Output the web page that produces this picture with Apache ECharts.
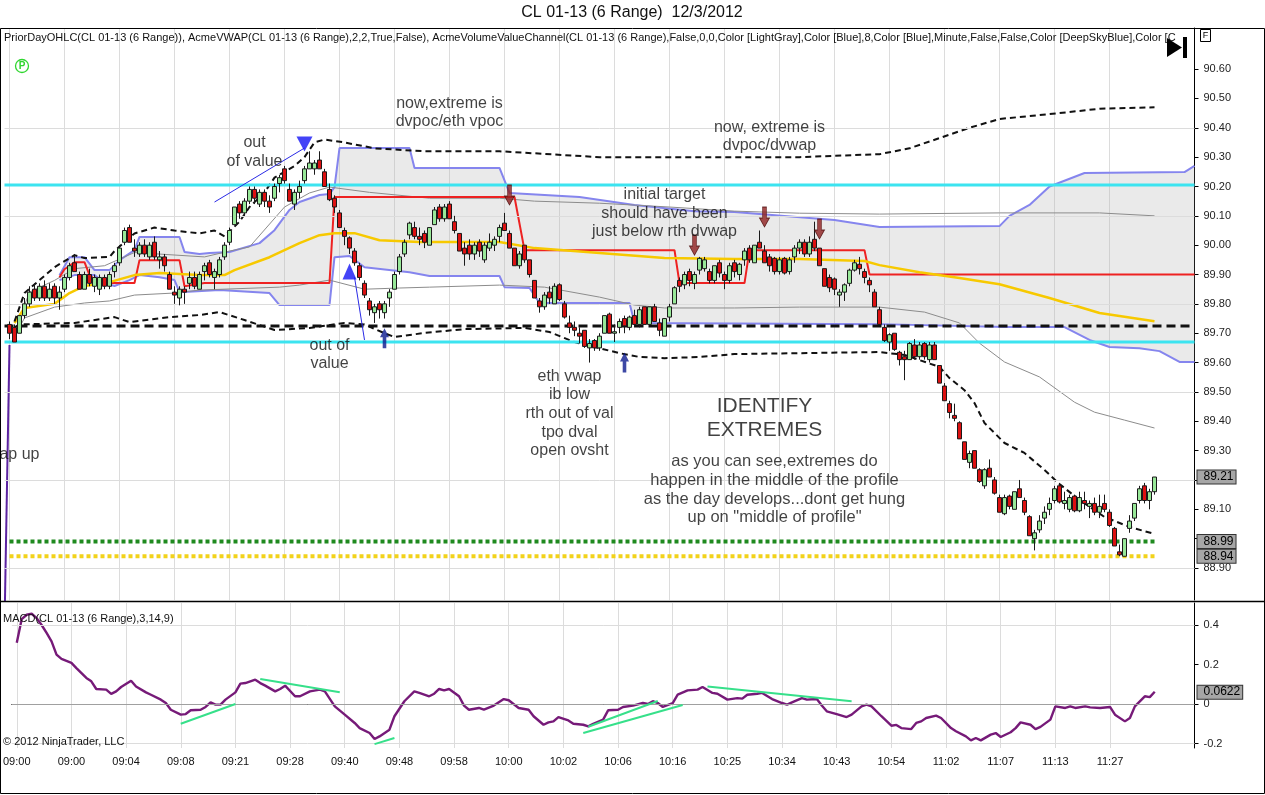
<!DOCTYPE html>
<html>
<head>
<meta charset="utf-8">
<script src="https://cdn.jsdelivr.net/npm/echarts@6/dist/echarts.min.js"></script>
<style>
  html, body { margin: 0; padding: 0; background: #fff; }
  #chart { width: 1265px; height: 795px; }
</style>
</head>
<body>
<div id="chart"></div>
<script>
// ---- Data ----
const tickLabels = ['09:00','09:00','09:04','09:08','09:21','09:28','09:40','09:48','09:58','10:00','10:02',
  '10:06','10:16','10:25','10:34','10:43','10:54','11:02','11:07','11:13','11:27'];

// range bars 1..230 : [open, close, low, high]
const candles = [
  [89.73,89.70,89.68,89.74],[89.72,89.67,89.67,89.73],[89.70,89.76,89.70,89.76],[89.76,89.80,89.75,89.82],
  [89.80,89.84,89.79,89.86],[89.85,89.82,89.81,89.87],[89.82,89.86,89.81,89.87],[89.86,89.82,89.81,89.88],
  [89.82,89.85,89.81,89.87],[89.86,89.82,89.80,89.87],[89.82,89.84,89.78,89.86],[89.85,89.89,89.84,89.90],
  [89.89,89.93,89.88,89.94],[89.94,89.91,89.91,89.97],[89.90,89.85,89.85,89.91],[89.85,89.90,89.85,89.91],
  [89.90,89.87,89.86,89.92],[89.86,89.89,89.84,89.90],[89.85,89.89,89.83,89.90],[89.89,89.86,89.85,89.90],
  [89.86,89.90,89.85,89.91],[89.91,89.93,89.89,89.94],[89.94,89.99,89.93,90.00],[90.01,90.05,90.00,90.06],
  [90.06,90.01,90.01,90.07],[89.99,89.98,89.96,90.02],[89.97,90.00,89.96,90.01],[90.00,89.97,89.96,90.02],
  [89.96,90.00,89.95,90.01],[90.01,89.96,89.95,90.03],[89.95,89.96,89.92,89.98],[89.96,89.93,89.91,89.97],
  [89.90,89.85,89.85,89.91],[89.84,89.83,89.80,89.86],[89.82,89.85,89.795,89.86],[89.85,89.84,89.80,89.86],
  [89.87,89.89,89.85,89.91],[89.89,89.86,89.85,89.91],[89.85,89.90,89.85,89.91],[89.91,89.93,89.88,89.94],
  [89.94,89.90,89.89,89.95],[89.89,89.91,89.85,89.92],[89.90,89.95,89.89,89.96],[89.96,90.00,89.95,90.01],
  [90.01,90.05,90.00,90.06],[90.07,90.13,90.07,90.13],[90.14,90.11,90.09,90.15],[90.11,90.15,90.10,90.16],
  [90.15,90.19,90.14,90.20],[90.19,90.16,90.14,90.20],[90.14,90.18,90.13,90.19],[90.18,90.15,90.13,90.19],
  [90.15,90.13,90.11,90.17],[90.16,90.20,90.15,90.21],[90.21,90.23,90.18,90.24],[90.26,90.22,90.21,90.27],
  [90.19,90.15,90.15,90.21],[90.14,90.18,90.12,90.19],[90.18,90.20,90.16,90.22],[90.22,90.26,90.21,90.27],
  [90.26,90.28,90.26,90.32],[90.26,90.28,90.24,90.29],[90.29,90.26,90.26,90.32],[90.25,90.20,90.20,90.26],
  [90.19,90.155,90.15,90.21],[90.16,90.13,90.11,90.17],[90.11,90.06,90.06,90.12],[90.05,90.03,90.00,90.06],
  [90.025,89.99,89.97,90.03],[89.98,89.94,89.93,89.99],[89.93,89.89,89.88,89.94],[89.87,89.83,89.82,89.88],
  [89.81,89.78,89.76,89.82],[89.77,89.79,89.735,89.80],[89.80,89.78,89.75,89.81],[89.77,89.80,89.75,89.81],
  [89.82,89.84,89.79,89.85],[89.85,89.90,89.85,89.91],[89.91,89.96,89.90,89.97],[89.97,90.01,89.96,90.02],
  [90.035,90.075,90.02,90.08],[90.06,90.03,90.02,90.08],[90.03,90.02,90.00,90.06],[90.04,90.01,89.99,90.05],
  [90.00,90.06,90.00,90.06],[90.07,90.12,90.07,90.13],[90.13,90.09,90.08,90.14],[90.09,90.13,90.08,90.14],
  [90.14,90.09,90.09,90.15],[90.08,90.05,90.04,90.10],[90.04,89.98,89.98,90.04],[89.99,89.97,89.93,90.01],
  [90.00,89.97,89.95,90.02],[89.97,90.00,89.95,90.01],[90.01,89.98,89.96,90.02],[89.95,90.00,89.94,90.01],
  [89.99,90.01,89.98,90.04],[90.00,90.02,89.98,90.03],[90.03,90.06,90.01,90.07],[90.075,90.05,90.05,90.11],
  [90.04,89.99,89.99,90.05],[89.99,89.93,89.93,89.99],[89.93,89.97,89.92,89.98],[90.00,89.95,89.94,90.00],
  [89.95,89.90,89.89,89.95],[89.88,89.82,89.82,89.88],[89.81,89.79,89.77,89.82],[89.79,89.83,89.78,89.84],
  [89.84,89.82,89.80,89.86],[89.80,89.86,89.80,89.87],[89.865,89.815,89.81,89.87],[89.80,89.755,89.75,89.81],
  [89.735,89.72,89.70,89.76],[89.72,89.71,89.69,89.74],[89.70,89.69,89.665,89.72],[89.71,89.655,89.65,89.71],
  [89.65,89.665,89.60,89.68],[89.675,89.65,89.64,89.68],[89.65,89.69,89.64,89.70],[89.70,89.76,89.70,89.76],
  [89.765,89.70,89.70,89.77],[89.70,89.705,89.67,89.73],[89.72,89.74,89.70,89.75],[89.75,89.725,89.70,89.76],
  [89.72,89.755,89.71,89.76],[89.76,89.73,89.72,89.78],[89.73,89.78,89.72,89.79],[89.79,89.73,89.73,89.79],
  [89.73,89.79,89.73,89.79],[89.79,89.74,89.74,89.80],[89.735,89.71,89.69,89.75],[89.69,89.75,89.69,89.75],
  [89.755,89.79,89.74,89.80],[89.80,89.855,89.80,89.86],[89.88,89.86,89.84,89.89],[89.865,89.90,89.85,89.91],
  [89.91,89.88,89.86,89.92],[89.87,89.90,89.85,89.91],[89.915,89.955,89.90,89.96],[89.92,89.95,89.91,89.96],
  [89.91,89.88,89.87,89.92],[89.88,89.93,89.87,89.93],[89.94,89.905,89.89,89.95],[89.90,89.88,89.85,89.91],
  [89.88,89.93,89.87,89.94],[89.94,89.91,89.89,89.95],[89.90,89.935,89.88,89.94],[89.95,89.98,89.93,89.99],
  [89.99,89.95,89.94,90.00],[89.94,90.00,89.94,90.00],[90.01,89.99,89.99,90.05],[89.98,89.94,89.94,90.00],
  [89.96,89.93,89.91,89.97],[89.955,89.91,89.90,89.96],[89.91,89.95,89.90,89.96],[89.955,89.905,89.90,89.96],
  [89.91,89.95,89.90,89.96],[89.96,89.99,89.94,90.00],[89.99,90.01,89.97,90.02],[90.01,89.97,89.96,90.02],
  [89.97,90.01,89.96,90.03],[90.02,89.99,89.98,90.08],[89.99,89.93,89.93,89.99],[89.92,89.86,89.86,89.92],
  [89.89,89.855,89.84,89.90],[89.885,89.85,89.83,89.89],[89.83,89.84,89.79,89.85],[89.84,89.865,89.81,89.87],
  [89.87,89.915,89.86,89.92],[89.915,89.94,89.91,89.95],[89.935,89.92,89.90,89.96],[89.91,89.89,89.87,89.92],
  [89.88,89.865,89.84,89.89],[89.84,89.79,89.79,89.85],[89.78,89.73,89.73,89.79],[89.72,89.675,89.67,89.73],
  [89.67,89.695,89.64,89.70],[89.70,89.645,89.64,89.70],[89.635,89.61,89.59,89.64],[89.62,89.61,89.54,89.64],
  [89.61,89.665,89.61,89.67],[89.66,89.62,89.61,89.68],[89.62,89.66,89.61,89.67],[89.665,89.62,89.61,89.67],
  [89.61,89.66,89.60,89.67],[89.66,89.61,89.61,89.67],[89.59,89.53,89.53,89.59],[89.52,89.47,89.47,89.53],
  [89.46,89.43,89.41,89.47],[89.42,89.41,89.40,89.46],[89.395,89.34,89.34,89.40],[89.33,89.27,89.27,89.33],
  [89.26,89.29,89.24,89.30],[89.30,89.24,89.24,89.30],[89.235,89.195,89.19,89.24],[89.18,89.235,89.17,89.24],
  [89.24,89.21,89.21,89.27],[89.20,89.155,89.15,89.21],[89.14,89.09,89.09,89.15],[89.085,89.14,89.08,89.15],
  [89.145,89.11,89.10,89.15],[89.10,89.16,89.10,89.16],[89.17,89.14,89.14,89.20],[89.13,89.09,89.08,89.14],
  [89.075,89.01,89.01,89.08],[89.00,89.02,88.96,89.03],[89.03,89.06,89.02,89.08],[89.07,89.09,89.05,89.11],
  [89.10,89.12,89.08,89.14],[89.13,89.17,89.12,89.18],[89.18,89.125,89.12,89.19],[89.12,89.13,89.10,89.16],
  [89.10,89.14,89.09,89.15],[89.145,89.095,89.09,89.15],[89.095,89.14,89.09,89.16],[89.13,89.12,89.10,89.16],
  [89.11,89.12,89.07,89.13],[89.12,89.09,89.08,89.14],[89.09,89.11,89.07,89.15],[89.12,89.10,89.09,89.15],
  [89.09,89.045,89.04,89.10],[89.035,88.975,88.975,89.04],[88.955,88.945,88.94,88.98],[88.94,89.00,88.94,89.00],
  [89.035,89.06,89.02,89.08],[89.07,89.12,89.06,89.12],[89.13,89.17,89.12,89.18],[89.18,89.13,89.12,89.19],
  [89.13,89.16,89.10,89.17],[89.16,89.21,89.15,89.21]
];

// indicator vertices [bar, value]
const upperBand2 = [[2,89.74],[4,89.837],[10,89.925],[14,89.966],[16,89.956],[21,89.96],[22,89.98],[26,90.04],
  [30,90.06],[34,90.05],[39,90.04],[42,90.05],[44,90.03],[47,90.08],[49,90.13],[52,90.18],[54,90.23],[58,90.27],
  [60,90.30],[62,90.35],[64,90.36],[68,90.35],[74,90.33],[84,90.32],[99,90.32],[119,90.30],[139,90.30],
  [159,90.30],[175,90.31],[181,90.33],[187,90.365],[193,90.40],[199,90.43],[205,90.44],[211,90.45],[219,90.465],[230,90.47]];
const lowerBand2 = [[2,89.72],[3,89.73],[14,89.735],[22,89.755],[25,89.738],[33,89.755],[39,89.762],[43,89.772],
  [48,89.745],[54,89.711],[61,89.718],[68,89.735],[72,89.73],[76,89.70],[78,89.687],[84,89.701],[92,89.714],
  [104,89.718],[109,89.704],[114,89.670],[119,89.649],[123,89.632],[127,89.619],[132,89.615],[139,89.619],
  [146,89.629],[159,89.632],[175,89.636],[180,89.626],[187,89.585],[189,89.547],[192,89.506],[194,89.462],
  [196,89.394],[200,89.326],[204,89.292],[208,89.234],[211,89.186],[215,89.132],[220,89.074],[225,89.04],[230,89.016]];
const upperBand1 = [[3,89.75],[5,89.84],[10,89.88],[14,89.92],[20,89.93],[26,89.975],[40,89.96],[45,89.98],
  [49,89.994],[56,90.13],[61,90.178],[65,90.198],[73,90.18],[85,90.16],[99,90.16],[106,90.15],[119,90.143],
  [133,90.13],[146,90.116],[159,90.109],[175,90.106],[199,90.11],[219,90.11],[230,90.10]];
const lowerBand1 = [[3,89.72],[4,89.752],[10,89.789],[16,89.803],[21,89.81],[26,89.83],[34,89.837],[39,89.847],
  [55,89.857],[59,89.864],[65,89.881],[72,89.85],[79,89.854],[85,89.857],[99,89.864],[108,89.857],[119,89.823],
  [126,89.796],[132,89.786],[146,89.786],[159,89.789],[175,89.789],[184,89.772],[191,89.735],[195,89.666],
  [200,89.602],[207,89.551],[214,89.465],[218,89.431],[224,89.404],[230,89.377]];
const vwap = [[2,89.735],[4,89.786],[10,89.80],[13,89.837],[16,89.861],[21,89.874],[26,89.898],[31,89.905],
  [39,89.898],[44,89.898],[46,89.915],[53,89.959],[59,90.007],[63,90.034],[66,90.041],[70,90.041],[75,90.017],
  [83,90.011],[99,90.011],[106,89.99],[119,89.973],[132,89.956],[146,89.953],[159,89.953],[172,89.946],
  [175,89.932],[183,89.908],[191,89.888],[199,89.867],[209,89.82],[219,89.769],[230,89.741]];
const valueHigh = [[11,89.898],[13,89.959],[16,89.959],[18,89.915],[21,89.915],[23,89.949],[26,89.983],[27,90.028],
  [35,90.028],[36,89.977],[39,89.97],[41,89.973],[45,89.977],[51,90.007],[54,90.051],[57,90.12],[59,90.147],
  [63,90.171],[65,90.174],[66,90.198],[67,90.331],[81,90.331],[82,90.263],[99,90.263],[101,90.178],[115,90.164],
  [126,90.137],[138,90.116],[146,90.113],[166,90.086],[175,90.062],[199,90.065],[201,90.10],[205,90.137],
  [209,90.20],[216,90.246],[236,90.249],[238,90.27]];
const valueLow = [[11,89.881],[14,89.898],[18,89.898],[20,89.871],[22,89.861],[25,89.881],[27,89.898],[31,89.891],
  [34,89.881],[35,89.84],[43,89.847],[53,89.837],[55,89.796],[65,89.796],[66,89.959],[69,89.963],[72,89.925],
  [81,89.908],[85,89.895],[99,89.895],[100,89.857],[105,89.854],[107,89.803],[125,89.803],[126,89.735],
  [175,89.731],[200,89.721],[212,89.721],[217,89.677],[221,89.653],[227,89.649],[231,89.639],[235,89.602],[238,89.602]];
const poc = [[11,89.891],[12,89.918],[14,89.942],[16,89.942],[17,89.898],[19,89.871],[26,89.871],[27,89.949],
  [35,89.949],[36,89.86],[40,89.871],[65,89.871],[66,90.164],[102,90.164],[104,89.983],[134,89.983],[135,89.871],
  [148,89.871],[149,89.983],[172,89.983],[173,89.90],[238,89.90]];
const gapLine = [[0,88.70],[1,89.66]];

const cyanLevels = [90.205, 89.67];
const openLevel = 89.725;
const priorClose = 88.99;
const priorLow = 88.94;
const priceTags = [89.21, 88.99, 88.94];

const macd = [[1,0.31],[2,0.43],[3,0.452],[4,0.457],[5,0.435],[6,0.40],[7,0.36],[8,0.317],[9,0.25],[10,0.228],
  [12,0.208],[13,0.182],[15,0.132],[16,0.115],[17,0.076],[19,0.073],[20,0.051],[21,0.064],[22,0.086],[24,0.118],
  [25,0.089],[27,0.059],[28,0.047],[30,0.022],[31,0.005],[32,-0.029],[34,-0.054],[35,-0.051],[36,-0.032],
  [38,-0.029],[39,-0.015],[40,0.008],[41,-0.003],[42,-0.003],[43,0.022],[45,0.059],[46,0.103],[47,0.106],
  [49,0.123],[50,0.106],[51,0.093],[53,0.064],[54,0.076],[55,0.093],[57,0.039],[58,0.039],[60,0.064],[62,0.073],
  [63,0.064],[65,-0.012],[67,-0.054],[69,-0.096],[70,-0.122],[72,-0.147],[73,-0.177],[74,-0.164],[76,-0.13],
  [77,-0.062],[79,0.014],[81,0.064],[82,0.056],[84,0.039],[85,0.052],[86,0.076],[87,0.069],[88,0.076],[90,0.039],
  [91,-0.008],[92,-0.029],[94,-0.02],[95,-0.029],[97,-0.008],[99,0.025],[100,0.019],[102,-0.02],[104,-0.029],
  [105,-0.062],[107,-0.105],[108,-0.093],[109,-0.088],[110,-0.066],[112,-0.083],[113,-0.10],[115,-0.105],
  [116,-0.113],[117,-0.10],[119,-0.079],[120,-0.032],[122,-0.029],[123,-0.015],[125,-0.008],[127,0.005],[128,0],
  [129,0.014],[130,0.005],[131,-0.015],[133,0.005],[134,0.047],[136,0.069],[138,0.073],[139,0.086],[141,0.056],
  [142,0.052],[144,0.022],[146,0.03],[147,0.027],[148,0.047],[150,0.052],[151,0.056],[153,0.025],[155,0.005],
  [156,-0.003],[157,0.008],[159,0.03],[160,0.022],[162,0.025],[163,-0.008],[164,-0.037],[166,-0.051],[168,-0.066],
  [169,-0.054],[171,-0.012],[172,-0.003],[173,-0.012],[175,-0.062],[177,-0.11],[178,-0.106],[179,-0.122],
  [181,-0.127],[182,-0.096],[183,-0.088],[184,-0.071],[186,-0.059],[187,-0.071],[189,-0.122],[190,-0.138],
  [192,-0.164],[193,-0.184],[194,-0.172],[195,-0.184],[197,-0.155],[198,-0.147],[199,-0.167],[201,-0.143],
  [202,-0.122],[203,-0.093],[205,-0.105],[206,-0.127],[207,-0.116],[209,-0.079],[210,-0.012],[212,-0.02],
  [213,-0.012],[214,-0.02],[216,-0.012],[217,-0.017],[219,-0.02],[221,-0.015],[222,-0.054],[224,-0.088],
  [225,-0.071],[226,-0.012],[228,0.039],[229,0.035],[230,0.0622]];
const macdLast = 0.0622;
const macdTrendLines = [
  [[34,-0.1],[45,0.0]], [[50,0.127],[66,0.059]], [[73,-0.203],[77,-0.172]],
  [[115,-0.147],[135,-0.005]], [[116,-0.115],[130,0.015]], [[140,0.089],[169,0.014]]
];

const priceTicks = [88.9,89.0,89.1,89.2,89.3,89.4,89.5,89.6,89.7,89.8,89.9,90.0,90.1,90.2,90.3,90.4,90.5,90.6];
const priceGridLevels = [88.9, 89.2, 89.5, 89.8, 90.1, 90.4];
const macdTicks = [-0.2, 0, 0.2, 0.4];
const macdGridLevels = [-0.2, 0.4];

// ---- Annotations (anchored in bar / price space) ----
const notes = [
  { text: 'out\nof value', at: [50, 90.316] },
  { text: 'now,extreme is\ndvpoc/eth vpoc', at: [89, 90.452] },
  { text: 'now, extreme is\ndvpoc/dvwap', at: [153, 90.370] },
  { text: 'initial target\nshould have been\njust below rth dvwap', at: [132, 90.109] },
  { text: 'out of\nvalue', at: [65, 89.627] },
  { text: 'eth vwap\nib low\nrth out of val\ntpo dval\nopen ovsht', at: [113, 89.426] }
];
const bigNote = { text: 'as you can see,extremes do\nhappen in the middle of the profile\nas the day develops...dont get hung\nup on "middle of profile"', at: [154, 89.167] };
const headline = { text: 'IDENTIFY\nEXTREMES', at: [152, 89.411] };
const gapNote = { text: 'gap up', at: [7, 89.285] };
const downArrows = [[101, 90.171], [138, 90.0], [152, 90.096], [163, 90.055]];
const upArrows = [[76, 89.683], [124, 89.60]];
const blueTriDown = [[60, 90.345]];
const blueTriUp = [[69, 89.91]];
const blueStrokes = [[[42, 90.147], [60, 90.331]], [[70, 89.891], [72, 89.677]]];

// ---- Chart ----
const FONT = 'Liberation Sans, Arial, sans-serif';
const bars = Array.from({ length: 239 }, (_, i) => String(i));
const isGridBar = i => i % 11 === 1 && i <= 221;
const HIDDEN = 'rgba(0,0,0,0)';
const tagLabel = {
  show: true, position: 'end', distance: 3,
  backgroundColor: '#a6a6a6', borderColor: '#333', borderWidth: 1, padding: [1, 2, 0, 6],
  color: '#000', fontSize: 12, fontFamily: FONT
};

function line(data, color, width, type, z, extra) {
  return Object.assign({
    type: 'line', xAxisIndex: 0, yAxisIndex: 0, data: data, symbol: 'none', silent: true,
    z: z, lineStyle: { color: color, width: width, type: type || 'solid' }
  }, extra || {});
}

const chart = echarts.init(document.getElementById('chart'));

const series = [
  // value area fill
  {
    type: 'custom', xAxisIndex: 0, yAxisIndex: 0, z: 1, silent: true, data: [[0, 89.8]],
    renderItem: function (params, api) {
      const pts = valueHigh.map(p => api.coord(p))
        .concat(valueLow.slice().reverse().map(p => api.coord(p)));
      return { type: 'polygon', shape: { points: pts }, style: { fill: 'rgba(185,185,185,0.3)' } };
    }
  },
  line(valueLow, '#8585ee', 2, 'solid', 2, {
    markLine: {
      silent: true, symbol: 'none', label: { show: false },
      lineStyle: { color: '#dcdcdc', width: 1, type: 'solid' },
      data: priceGridLevels.map(v => ({ yAxis: v }))
    }
  }),
  line(valueHigh, '#8585ee', 2, 'solid', 2),
  line(upperBand1, '#8c8c8c', 1, 'solid', 2),
  line(lowerBand1, '#8c8c8c', 1, 'solid', 2),
  line(poc, '#ee2222', 2, 'solid', 3),
  line(vwap, '#f7c900', 2.5, 'solid', 3),
  line(upperBand2, '#111', 2, [6, 4], 3),
  line(lowerBand2, '#111', 2, [6, 4], 3),
  line([[0, cyanLevels[0]], [238, cyanLevels[0]]], '#3ce4f0', 3, 'solid', 3),
  line([[0, cyanLevels[1]], [238, cyanLevels[1]]], '#3ce4f0', 3, 'solid', 3),
  line([[0, openLevel], [238, openLevel]], '#111', 3, [9, 5], 3),
  line([[1, priorClose], [230, priorClose]], '#1f8a1f', 4, [4, 3], 3),
  line([[1, priorLow], [230, priorLow]], '#f2d21a', 4, [4, 3], 3),
  line(gapLine, '#5b23a0', 2, 'solid', 3),
  {
    type: 'candlestick', xAxisIndex: 0, yAxisIndex: 0, z: 5, silent: true, barWidth: 4.2,
    data: candles.map((c, i) => [i + 1].concat(c)),
    encode: { x: 0, y: [1, 2, 3, 4] },
    itemStyle: { color: '#98e898', color0: '#dd1111', borderColor: '#1a1a1a', borderColor0: '#1a1a1a', borderWidth: 1 },
    markLine: {
      silent: true, symbol: 'none',
      lineStyle: { color: HIDDEN, width: 1 },
      label: Object.assign({ formatter: p => p.value.toFixed(2) }, tagLabel),
      data: priceTags.map(v => ({ yAxis: v }))
    }
  },
  ...blueStrokes.map(s => line(s, '#2a2ae6', 1, 'solid', 6)),
  {
    type: 'scatter', xAxisIndex: 0, yAxisIndex: 0, z: 6, silent: true, symbol: 'triangle',
    symbolSize: [16, 15], symbolRotate: 180, data: blueTriDown, itemStyle: { color: '#1414f5' }
  },
  {
    type: 'scatter', xAxisIndex: 0, yAxisIndex: 0, z: 6, silent: true, symbol: 'triangle',
    symbolSize: [14, 16], data: blueTriUp, itemStyle: { color: '#1414f5' }
  },
  {
    type: 'scatter', xAxisIndex: 0, yAxisIndex: 0, z: 6, silent: true,
    symbol: 'path://M3,0 L7,0 L7,11 L10,11 L5,20 L0,11 L3,11 Z', symbolSize: [10, 20],
    data: downArrows, itemStyle: { color: '#8e1f1f', borderColor: '#4a0a0a', borderWidth: 0.8 }
  },
  {
    type: 'scatter', xAxisIndex: 0, yAxisIndex: 0, z: 6, silent: true,
    symbol: 'path://M5,0 L10,9 L7,9 L7,20 L3,20 L3,9 L0,9 Z', symbolSize: [9, 20],
    data: upArrows, itemStyle: { color: '#0d1a8e' }
  },
  {
    type: 'scatter', xAxisIndex: 0, yAxisIndex: 0, z: 7, silent: true, symbolSize: 1,
    itemStyle: { color: HIDDEN },
    data: notes.map(n => ({ value: n.at, name: n.text })).concat([
      { value: bigNote.at, name: bigNote.text, label: { fontSize: 16.5 } },
      { value: headline.at, name: headline.text, label: { fontSize: 21, lineHeight: 24 } },
      { value: gapNote.at, name: gapNote.text, label: { align: 'right' } }
    ]),
    label: {
      show: true, position: 'inside', formatter: p => p.name, color: '#111',
      fontSize: 16, lineHeight: 18.7, fontFamily: FONT, align: 'center'
    }
  },
  // MACD panel
  {
    type: 'line', xAxisIndex: 1, yAxisIndex: 1, data: macd, symbol: 'none', silent: true, z: 4,
    lineStyle: { color: '#761a78', width: 2.4 },
    markLine: {
      silent: true, symbol: 'none', label: { show: false },
      data: macdGridLevels.map(v => ({ yAxis: v, lineStyle: { color: '#dcdcdc', width: 1, type: 'solid' } }))
        .concat([{ yAxis: 0, lineStyle: { color: '#a0a0a0', width: 1, type: 'solid' } }])
        .concat([{
          yAxis: macdLast, lineStyle: { color: HIDDEN, width: 1 },
          label: Object.assign({ formatter: String(macdLast) }, tagLabel)
        }])
    }
  },
  ...macdTrendLines.map(s => ({
    type: 'line', xAxisIndex: 1, yAxisIndex: 1, data: s, symbol: 'none', silent: true, z: 5,
    lineStyle: { color: '#36e08a', width: 2 }
  }))
];

const option = {
  animation: false,
  backgroundColor: '#fff',
  grid: [
    { left: 4.5, right: 70.5, top: 28, height: 572 },
    { left: 4.5, right: 70.5, top: 603, height: 145 }
  ],
  xAxis: [
    {
      type: 'category', gridIndex: 0, data: bars, boundaryGap: false,
      axisLine: { show: false }, axisTick: { show: false }, axisLabel: { show: false },
      splitLine: { show: true, interval: isGridBar, lineStyle: { color: '#dcdcdc', width: 1 } }
    },
    {
      type: 'category', gridIndex: 1, data: bars, boundaryGap: false,
      axisLine: { show: true, lineStyle: { color: '#000', width: 1 } },
      axisTick: { show: false },
      axisLabel: {
        interval: isGridBar, formatter: (v, i) => tickLabels[(i - 1) / 11] || '',
        fontSize: 11, color: '#111', fontFamily: FONT, margin: 8
      },
      splitLine: { show: true, interval: isGridBar, lineStyle: { color: '#dcdcdc', width: 1 } }
    }
  ],
  yAxis: [
    {
      type: 'value', gridIndex: 0, position: 'right', min: 88.791, max: 90.740,
      axisLine: { show: true, lineStyle: { color: '#000' } },
      axisTick: { show: true, length: 4, customValues: priceTicks, lineStyle: { color: '#000' } },
      axisLabel: { customValues: priceTicks, formatter: v => v.toFixed(2), fontSize: 11, color: '#222', fontFamily: FONT, margin: 9 },
      splitLine: { show: false }
    },
    {
      type: 'value', gridIndex: 1, position: 'right', min: -0.2228, max: 0.5114,
      axisLine: { show: true, lineStyle: { color: '#000' } },
      axisTick: { show: true, length: 4, customValues: macdTicks, lineStyle: { color: '#000' } },
      axisLabel: { customValues: macdTicks, formatter: v => (Math.abs(v) < 1e-9 ? '0' : String(+v.toFixed(1))), fontSize: 11, color: '#222', fontFamily: FONT, margin: 9 },
      splitLine: { show: false }
    }
  ],
  series: series,
  graphic: [
    { type: 'text', x: 632, y: 13, z: 100, style: { text: 'CL 01-13 (6 Range)  12/3/2012', fill: '#111', fontSize: 16, fontFamily: FONT, align: 'center', verticalAlign: 'middle' } },
    { type: 'rect', z: 100, silent: true, shape: { x: 0.5, y: 28.5, width: 1264, height: 765 }, style: { fill: 'transparent', stroke: '#000', lineWidth: 1 } },
    { type: 'line', z: 100, silent: true, shape: { x1: 0, y1: 601.5, x2: 1265, y2: 601.5 }, style: { stroke: '#000', lineWidth: 1.5 } },
    { type: 'text', x: 4, y: 38, z: 100, style: {
      text: 'PriorDayOHLC(CL 01-13 (6 Range)), AcmeVWAP(CL 01-13 (6 Range),2,2,True,False), AcmeVolumeValueChannel(CL 01-13 (6 Range),False,0,0,Color [LightGray],Color [Blue],8,Color [Blue],Minute,False,False,Color [DeepSkyBlue],Color [C',
      fill: '#111', fontSize: 11, fontFamily: FONT, verticalAlign: 'middle', width: 1190, overflow: 'truncate', ellipsis: '' } },
    { type: 'circle', z: 100, shape: { cx: 22, cy: 66, r: 6.5 }, style: { fill: 'transparent', stroke: '#2fd62f', lineWidth: 1.3 } },
    { type: 'text', x: 22, y: 66.5, z: 100, style: { text: 'P', fill: '#2fd62f', fontSize: 10, fontWeight: 'bold', fontFamily: FONT, align: 'center', verticalAlign: 'middle' } },
    { type: 'polygon', z: 100, shape: { points: [[1167, 38], [1167, 57], [1182, 47.5]] }, style: { fill: '#000' } },
    { type: 'rect', z: 100, shape: { x: 1183, y: 37, width: 4, height: 21 }, style: { fill: '#000' } },
    { type: 'rect', z: 100, shape: { x: 1200.5, y: 29.5, width: 10, height: 12 }, style: { fill: '#fff', stroke: '#000', lineWidth: 1 } },
    { type: 'text', x: 1205.5, y: 35.8, z: 101, style: { text: 'F', fill: '#000', fontSize: 9, fontFamily: FONT, align: 'center', verticalAlign: 'middle' } },
    { type: 'text', x: 3, y: 619, z: 100, style: { text: 'MACD(CL 01-13 (6 Range),3,14,9)', fill: '#111', fontSize: 11, fontFamily: FONT, verticalAlign: 'middle' } },
    { type: 'text', x: 3, y: 742, z: 100, style: { text: '\u00a9 2012 NinjaTrader, LLC', fill: '#111', fontSize: 11, fontFamily: FONT, verticalAlign: 'middle' } }
  ]
};

chart.setOption(option);
window.addEventListener('resize', () => chart.resize());
</script>
</body>
</html>
